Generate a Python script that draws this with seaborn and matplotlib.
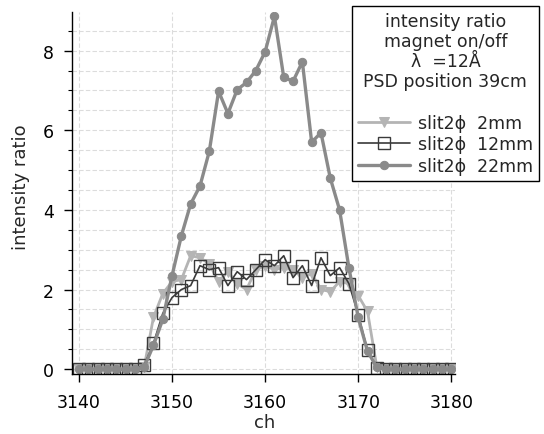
import pandas as pd
import matplotlib
matplotlib.use("Agg")
import matplotlib.pyplot as plt
import seaborn as sns
from matplotlib.ticker import MultipleLocator

# canales (eje x)
ch = [3140, 3141, 3142, 3143, 3144, 3145, 3146, 3147, 3148, 3149,
      3150, 3151, 3152, 3153, 3154, 3155, 3156, 3157, 3158, 3159,
      3160, 3161, 3162, 3163, 3164, 3165, 3166, 3167, 3168, 3169,
      3170, 3171, 3172, 3173, 3174, 3175, 3176, 3177, 3178, 3179, 3180]

# razon de intensidad magnet on/off para cada rendija
slit_2mm = [0, 0, 0, 0, 0, 0, 0, 0.05, 1.3, 1.9,
            2.2, 2.25, 2.85, 2.8, 2.65, 2.2, 2.45, 2.15, 2.0, 2.5,
            2.6, 2.5, 2.55, 2.5, 2.3, 2.4, 2.0, 1.95, 2.2, 2.15,
            1.85, 1.45, 0.05, 0, 0, 0, 0, 0, 0, 0, 0]
slit_12mm = [0, 0, 0, 0, 0, 0, 0, 0.1, 0.65, 1.4,
             1.8, 2.0, 2.1, 2.6, 2.5, 2.55, 2.1, 2.45, 2.25, 2.5,
             2.75, 2.6, 2.85, 2.3, 2.6, 2.1, 2.8, 2.35, 2.55, 2.15,
             1.37, 0.48, 0.02, 0, 0, 0, 0, 0, 0, 0, 0]
slit_22mm = [0, 0, 0, 0, 0, 0, 0, 0.05, 0.6, 1.25,
             2.35, 3.35, 4.15, 4.6, 5.47, 6.98, 6.42, 7.02, 7.2, 7.5,
             7.97, 8.86, 7.33, 7.23, 7.72, 5.7, 5.94, 4.8, 4.0, 2.55,
             1.3, 0.45, 0.05, 0, 0, 0, 0, 0, 0, 0, 0]

labels = ["slit2\u03d5  2mm", "slit2\u03d5  12mm", "slit2\u03d5  22mm"]

df = pd.DataFrame({"ch": ch * 3,
                   "ratio": slit_2mm + slit_12mm + slit_22mm,
                   "serie": [labels[0]] * len(ch) + [labels[1]] * len(ch) + [labels[2]] * len(ch)})

sns.set_style("ticks")
plt.rcParams["font.family"] = ["DejaVu Sans"]

fig = plt.figure(figsize=(5.44, 4.35), dpi=100)
ax = fig.add_axes([72 / 544, 1 - 375 / 435, 383 / 544, 362 / 435])

# estilos de cada serie
styles = {
    labels[0]: dict(color="#b4b4b4", marker="v", markersize=7, linewidth=2.0,
                    markerfacecolor="#b4b4b4", markeredgecolor="#b4b4b4"),
    labels[1]: dict(color="#3a3a3a", marker="s", markersize=8, linewidth=1.2,
                    markerfacecolor="none", markeredgecolor="#3a3a3a", markeredgewidth=1.0),
    labels[2]: dict(color="#8a8a8a", marker="o", markersize=6, linewidth=2.4,
                    markerfacecolor="#8a8a8a", markeredgecolor="#8a8a8a"),
}

for name in labels:
    sub = df[df["serie"] == name]
    sns.lineplot(data=sub, x="ch", y="ratio", ax=ax, label=name, **styles[name])

ax.set_xlim(3139.25, 3180.4)
ax.set_ylim(-0.12, 8.97)
ax.xaxis.set_major_locator(MultipleLocator(10))
ax.yaxis.set_major_locator(MultipleLocator(2))
ax.yaxis.set_minor_locator(MultipleLocator(0.5))

ax.grid(axis="x", which="major", color="#dcdcdc", linestyle=(0, (4, 2)), linewidth=0.8)
ax.grid(axis="y", which="both", color="#dcdcdc", linestyle=(0, (4, 2)), linewidth=0.8)
ax.set_axisbelow(True)

for s in ["top", "right"]:
    ax.spines[s].set_visible(False)
for s in ["left", "bottom"]:
    ax.spines[s].set_color("black")
    ax.spines[s].set_linewidth(1.0)

ax.tick_params(axis="both", which="major", direction="out", length=6, width=1,
               labelsize=12.5, colors="black")
ax.tick_params(axis="x", which="major", pad=8)
ax.tick_params(axis="y", which="major", pad=7)
ax.tick_params(axis="y", which="minor", direction="out", length=3, width=0.8, colors="black")

ax.set_xlabel("ch", fontsize=13)
ax.set_ylabel("intensity ratio", fontsize=13)
ax.xaxis.set_label_coords(0.504, -0.108)
ax.yaxis.set_label_coords(-0.11, 0.52)

leg = ax.legend(title="intensity ratio\nmagnet on/off\n\u03bb  =12\u00c5\nPSD position 39cm\n",
                loc="upper right", bbox_to_anchor=(539 / 544, 1 - 7 / 435),
                bbox_transform=fig.transFigure, borderaxespad=0,
                fontsize=12.5, title_fontsize=12.5,
                frameon=True, fancybox=False, edgecolor="black", framealpha=1,
                handlelength=3.0, labelspacing=0.2, borderpad=0.35, handletextpad=0.45)
leg.get_frame().set_linewidth(1.0)
leg.get_title().set_multialignment("center")
leg.get_title().set_linespacing(1.15)

fig.savefig("out.png", dpi=100)
